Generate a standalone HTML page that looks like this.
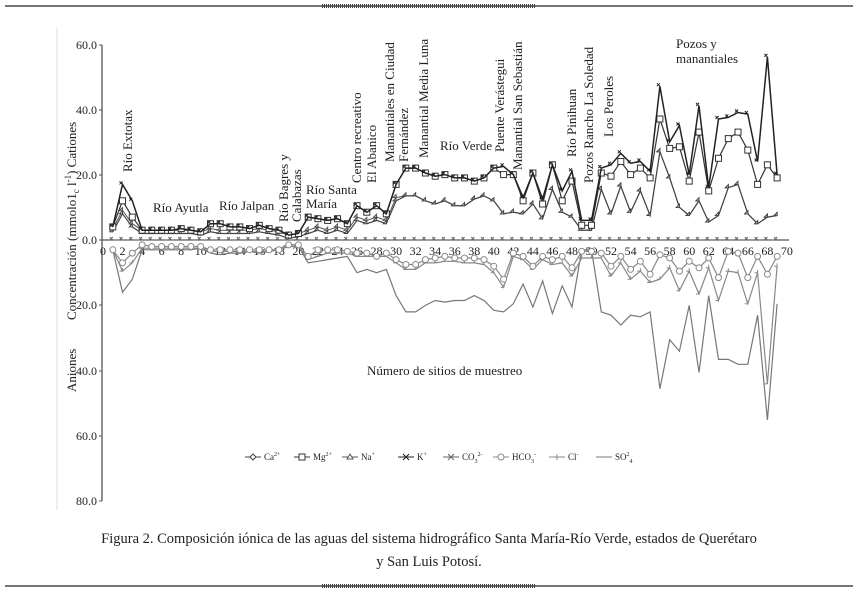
<!DOCTYPE html>
<html><head><meta charset="utf-8"><style>
body{margin:0;background:#fff;}
svg{display:block;font-family:"Liberation Serif",serif;}
</style></head><body>
<svg id="s" width="858" height="597" viewBox="0 0 858 597" xmlns="http://www.w3.org/2000/svg">
<rect width="858" height="597" fill="#fff"/>
<line x1="5" y1="6" x2="853" y2="6" stroke="#222" stroke-width="1.2"/>
<line x1="322" y1="6" x2="535" y2="6" stroke="#444" stroke-width="4" stroke-dasharray="1,1"/>
<line x1="5" y1="586" x2="853" y2="586" stroke="#222" stroke-width="1.2"/>
<line x1="197" y1="586" x2="345" y2="586" stroke="#444" stroke-width="0"/>
<line x1="322" y1="586" x2="535" y2="586" stroke="#444" stroke-width="4" stroke-dasharray="1,1"/>
<line x1="57" y1="28" x2="57" y2="510" stroke="#ddd" stroke-width="1"/>
<g id="g"></g>
<g font-size="13" fill="#222">
<text transform="translate(132,172) rotate(-90)">Río Extotax</text>
<text x="153" y="212">Río Ayutla</text>
<text x="219" y="210">Río Jalpan</text>
<text transform="translate(288,222) rotate(-90)">Río Bagres y</text>
<text transform="translate(301,222) rotate(-90)">Calabazas</text>
<text x="306" y="194">Río Santa</text>
<text x="306" y="208">María</text>
<text transform="translate(361,183) rotate(-90)">Centro recreativo</text>
<text transform="translate(376,183) rotate(-90)">El Abanico</text>
<text transform="translate(394,162) rotate(-90)">Manantiales en Ciudad</text>
<text transform="translate(408,162) rotate(-90)">Fernández</text>
<text transform="translate(428,158) rotate(-90)">Manantial Media Luna</text>
<text x="440" y="150">Río Verde</text>
<text transform="translate(504,152) rotate(-90)">Puente Verástegui</text>
<text transform="translate(522,170) rotate(-90)">Manantial San Sebastián</text>
<text transform="translate(576,157) rotate(-90)">Río Pinihuan</text>
<text transform="translate(593,183) rotate(-90)">Pozos Rancho La Soledad</text>
<text transform="translate(613,137) rotate(-90)">Los Peroles</text>
<text x="676" y="48">Pozos y</text>
<text x="676" y="63">manantiales</text>
<text x="367" y="375">Número de sitios de muestreo</text>
<text transform="translate(76,320) rotate(-90)">Concentración (mmolo1<tspan font-size="9" dy="3">c</tspan><tspan dy="-3"> l</tspan><tspan font-size="9" dy="-5">-1</tspan><tspan dy="5">)   Cationes</tspan></text>
<text transform="translate(76,392) rotate(-90)">Aniones</text>
</g>
<g font-size="14.5" fill="#222" text-anchor="middle">
<text x="429" y="543">Figura 2. Composición iónica de las aguas del sistema hidrográfico Santa María-Río Verde, estados de Querétaro</text>
<text x="429" y="566">y San Luis Potosí.</text>
</g>
</svg>
<script>
var g=document.getElementById('g'),NS='http://www.w3.org/2000/svg',h='';
function X(i){return 103+i*9.77;}
function Yc(v){return 240-v*3.27;}
function Ya(v){return 240+v*3.27;}
// axes
h+='<line x1="102" y1="45" x2="102" y2="501" stroke="#555" stroke-width="1.3"/>';
h+='<line x1="102" y1="240" x2="789" y2="240" stroke="#555" stroke-width="1.3"/>';
var yl=[[45,'60.0'],[110,'40.0'],[175,'20.0'],[240,'0.0'],[305,'20.0'],[371,'40.0'],[436,'60.0'],[501,'80.0']];
yl.forEach(function(t){h+='<line x1="99" y1="'+t[0]+'" x2="102" y2="'+t[0]+'" stroke="#555"/><text x="97" y="'+(t[0]+4)+'" font-size="12" text-anchor="end" fill="#222">'+t[1]+'</text>';});
for(var i=0;i<=70;i+=2){h+='<text x="'+X(i)+'" y="255" font-size="12" text-anchor="middle" fill="#222">'+i+'</text>';}
var K=[4,17,12,3,3,3,3,3.5,3,2.5,5,5,4,4,3.5,4.5,3.5,3,1.5,2,7,6.5,6,6.5,5,10.5,8.5,10.5,8,17,22,22,20.5,19.5,20,19,19,18,19,22,22.5,20,13,20.5,12.5,23,15,21,6,6,22,23,26.5,23.5,24,21,47,30,35,20,41,16,37,37.5,39,38.5,24,56,20];
var Mg=K.slice();var mo={2:12,3:7,41:20,42:20,43:12,45:11,47:12,48:18,49:4.5,50:4.5,51:20.5,52:19.5,53:24,54:20,55:22,56:19,57:37,58:28,59:28.5,60:18,61:33,62:15,63:25,64:31,65:33,66:27.5,67:17,68:23,69:19};
for(var k in mo)Mg[k-1]=mo[k];
var Ca=[2.5,8,4,2,2,2,2,2,2,1.5,2.5,2,2,2,2,2.5,2,1.5,0.5,1,2,3,2,3,2,6,5,6,5,12,13.5,13.5,12,11,12,10.5,10.5,12.5,13.5,12,8,8.5,8,11,6.5,15.5,8.5,7,3,3,15.5,8,16.5,8.5,15,7.5,27,19,10,7.5,12,5.5,7.5,16,17,8,5,7,7.5];
var Na=Ca.map(function(v,i){return i<30?v+1:v;});
var HC=[3,7,4,1.5,2,2,2,2,2,2,3,3,3,3,3,3,3,3,1.5,1.5,5,3,3,3,3.5,4,4,5,4,6,7.5,7.5,6,5.5,5,5.5,5.5,5.5,6,8,12,4,5,8,5,6,5,8.5,3.5,3.5,4,8,5,9,6.5,10.5,4.5,5.5,9.5,6.5,8.5,5.5,11.5,3.5,4,11.5,5,10.5,5];
var Cl=[3,9.5,7,2.5,2.5,2.5,2.5,2.5,2.5,2.5,3.5,3.5,3.5,3.5,3.5,3.5,3.5,3,2,2,6,5,4,4,4,5,5,5,5,7,9,9,7,7,6.5,6.5,7,7,7.5,10,14.5,5,6,9,6,7.5,7,11,5.5,5.5,5.5,11,7,12,9.5,13,12,8.5,15.5,9.5,16.5,8.5,18.5,9.5,10,19.5,10,44,8];
var SO=[3,16,12,3,3,3,3,3,3,2.5,4,4.5,4,4,3.5,4,3.5,3,1,2,7,6.5,6,5.5,5,10,9,10,9,17,22,22,20,18.5,19,18.5,18.5,17,18.5,21.5,22,19.5,13.5,20.5,12.5,22.5,14,20.5,3,3,22,23,26,23,23.5,22,45.5,30.5,34,20,40.5,17,36.5,36.5,38,38,23,55,19.5];
function mk(t,x,y,c){
 if(t=='d')return '<path d="M'+x+' '+(y-3)+'L'+(x+3)+' '+y+'L'+x+' '+(y+3)+'L'+(x-3)+' '+y+'Z" fill="#fff" stroke="'+c+'"/>';
 if(t=='s')return '<rect x="'+(x-3)+'" y="'+(y-3)+'" width="6" height="6" fill="#fff" stroke="'+c+'"/>';
 if(t=='t')return '<path d="M'+x+' '+(y-3)+'L'+(x+3)+' '+(y+2)+'L'+(x-3)+' '+(y+2)+'Z" fill="#fff" stroke="'+c+'"/>';
 if(t=='x')return '<path d="M'+(x-3)+' '+(y-3)+'L'+(x+3)+' '+(y+3)+'M'+(x+3)+' '+(y-3)+'L'+(x-3)+' '+(y+3)+'" stroke="'+c+'"/>';
 if(t=='a')return '<path d="M'+(x-3)+' '+(y-3)+'L'+(x+3)+' '+(y+3)+'M'+(x+3)+' '+(y-3)+'L'+(x-3)+' '+(y+3)+'M'+(x-3)+' '+y+'L'+(x+3)+' '+y+'" stroke="'+c+'"/>';
 if(t=='o')return '<circle cx="'+x+'" cy="'+y+'" r="3" fill="#fff" stroke="'+c+'"/>';
 if(t=='p')return '<path d="M'+x+' '+(y-3)+'L'+x+' '+(y+3)+'M'+(x-3)+' '+y+'L'+(x+3)+' '+y+'" stroke="'+c+'"/>';
 return '';
}
function ser(d,f,t,c,w){var p='',m='';d.forEach(function(v,i){var x=X(i+1),y=f(v);p+=(i?'L':'M')+x.toFixed(1)+' '+y.toFixed(1);m+=mk(t,x.toFixed(1),y.toFixed(1),c);});h+='<path d="'+p+'" fill="none" stroke="'+c+'" stroke-width="'+w+'"/>'+m;}
ser(SO,Ya,'-','#777',1.2);
ser(Cl,Ya,'p','#888',1.2);
ser(HC,Ya,'o','#888',1.2);
ser(Na,Yc,'t','#555',1);
ser(Ca,Yc,'d','#444',1.2);
ser(Mg,Yc,'s','#333',1.2);
ser(K,Yc,'x','#222',1.5);
var z=[];for(var i=0;i<69;i++)z.push(0);ser(z,Yc,'a','#666',1);
// legend
var L=[[245,'d','#444','Ca<tspan font-size="6" dy="-4">2+</tspan>'],[294,'s','#333','Mg<tspan font-size="6" dy="-4">2+</tspan>'],[342,'t','#555','Na<tspan font-size="6" dy="-4">+</tspan>'],[398,'x','#222','K<tspan font-size="6" dy="-4">+</tspan>'],[443,'a','#666','CO<tspan font-size="6" dy="3">3</tspan><tspan font-size="6" dy="-7">2-</tspan>'],[493,'o','#888','HCO<tspan font-size="6" dy="3">3</tspan><tspan font-size="6" dy="-7">-</tspan>'],[549,'p','#888','Cl<tspan font-size="6" dy="-4">-</tspan>'],[596,'-','#777','SO<tspan font-size="6" dy="-4">2</tspan><tspan font-size="6" dy="7">4</tspan>']];
L.forEach(function(l){h+='<line x1="'+l[0]+'" y1="457" x2="'+(l[0]+16)+'" y2="457" stroke="'+l[2]+'"/>'+mk(l[1],l[0]+8,457,l[2])+'<text x="'+(l[0]+19)+'" y="460" font-size="9" fill="#222">'+l[3]+'</text>';});
g.innerHTML=h;
</script>
</body></html>
